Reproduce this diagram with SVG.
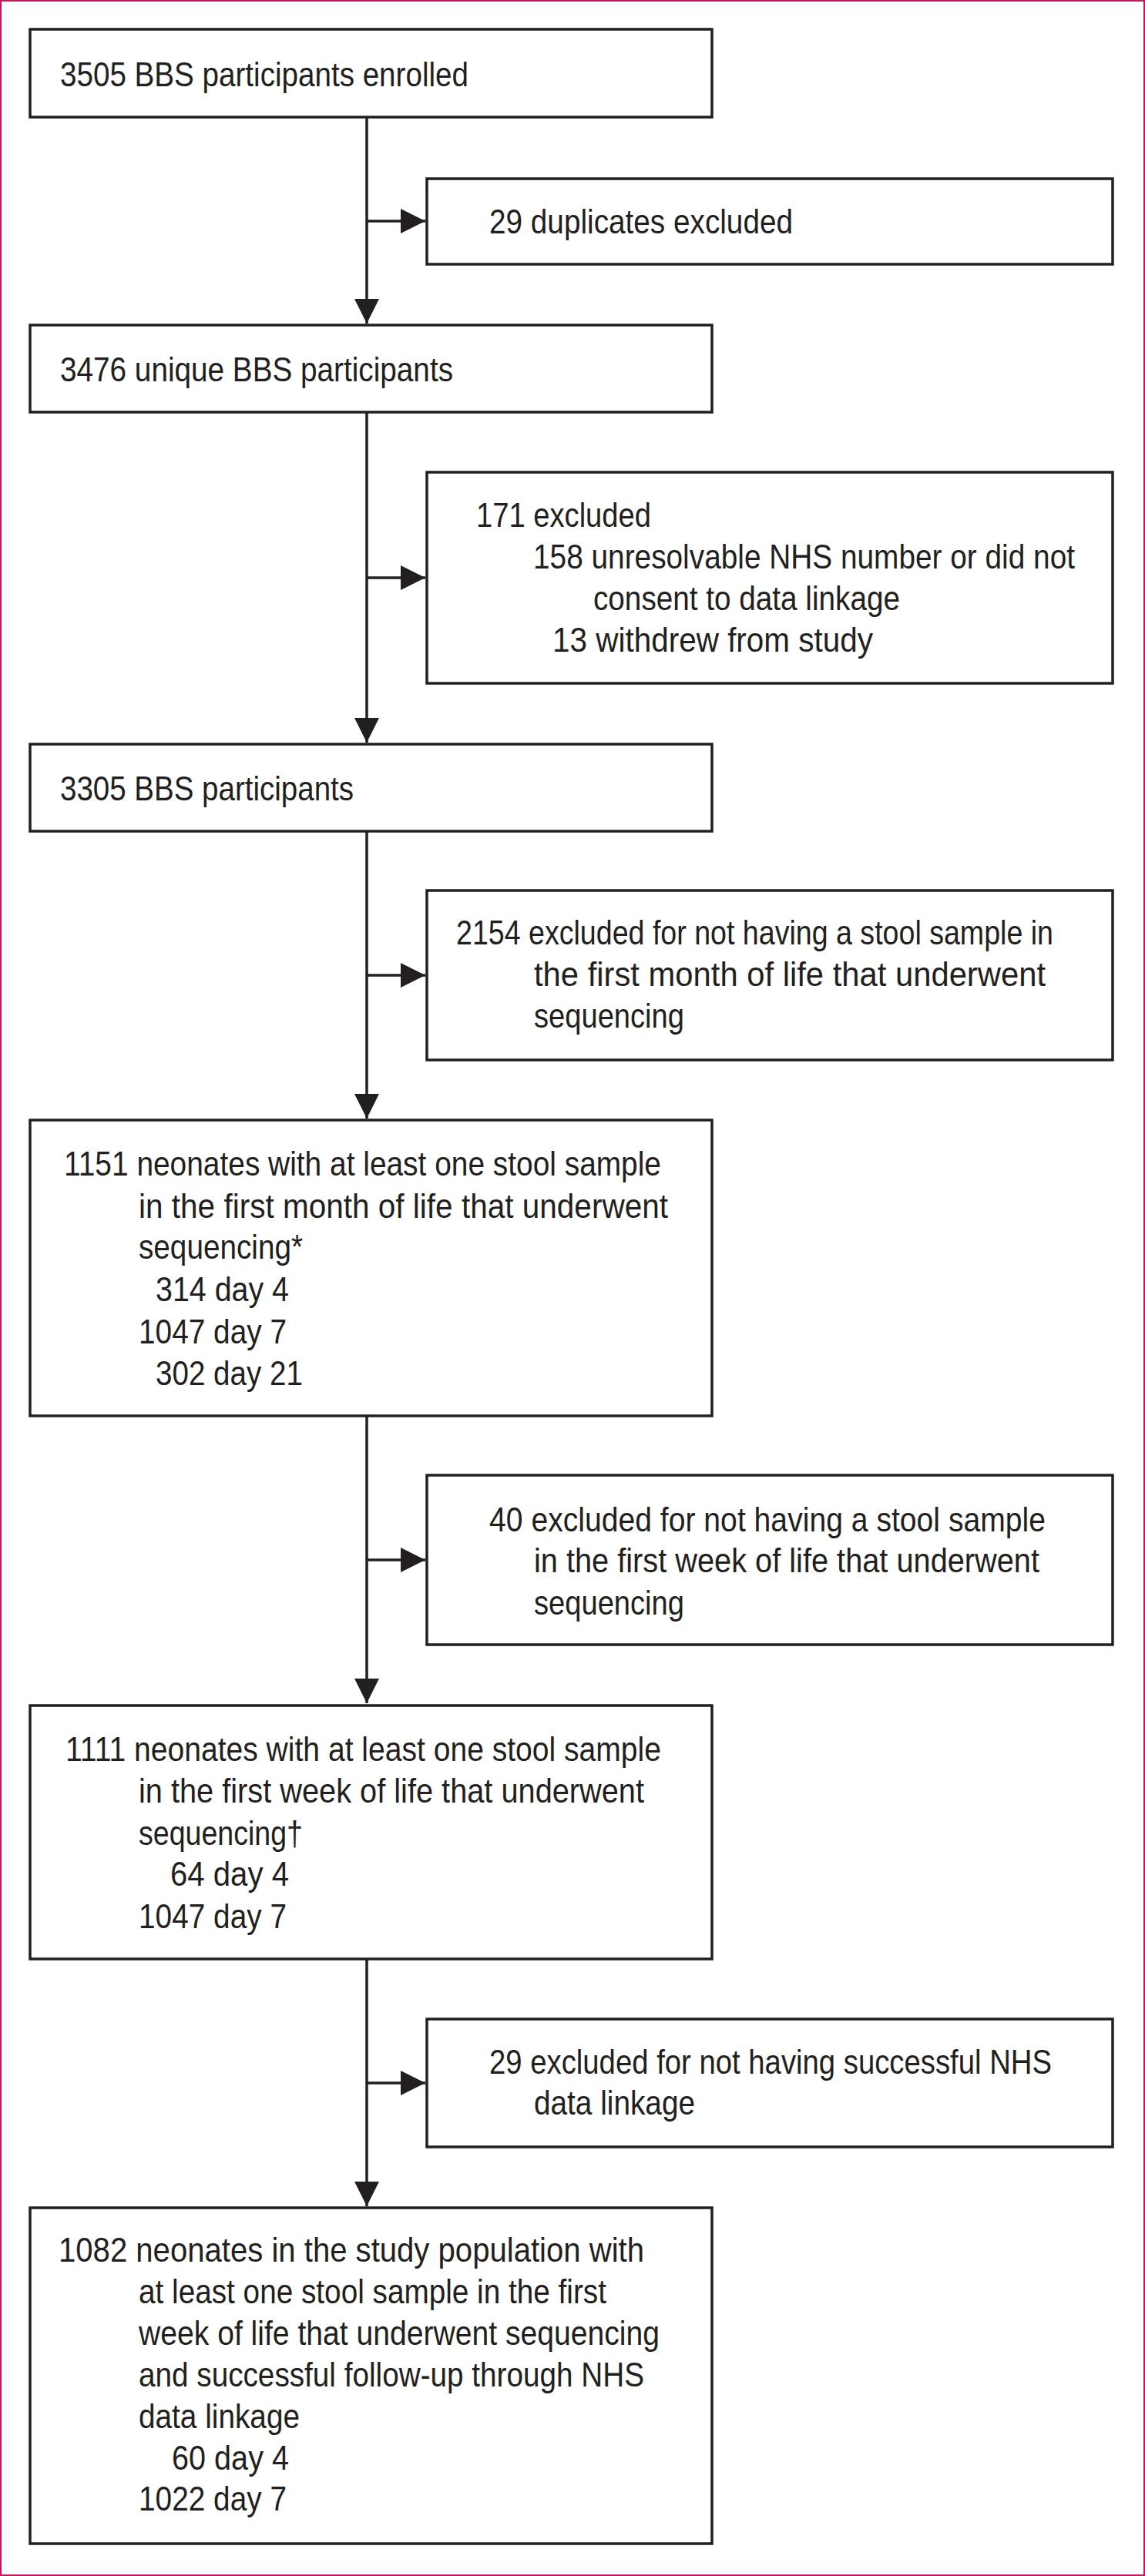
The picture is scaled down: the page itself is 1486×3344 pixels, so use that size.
<svg xmlns="http://www.w3.org/2000/svg" width="1486" height="3344" viewBox="0 0 1486 3344">
<defs>
<style>
.box{fill:#fff;stroke:#231f20;stroke-width:3.5}
.t{font-family:"Liberation Sans",Arial,sans-serif;font-size:44px;fill:#231f20}
.e{text-anchor:end}
.ln{stroke:#231f20;stroke-width:3.5;fill:none}
</style>
<marker id="ah" markerUnits="userSpaceOnUse" markerWidth="32" markerHeight="32" viewBox="0 0 30 30" refX="30" refY="15" orient="auto">
<path d="M0,0 L30,15 L0,30 Z" fill="#231f20"/>
</marker>
</defs>
<rect x="1" y="1" width="1484" height="3342" fill="#fff" stroke="#c2185b" stroke-width="2"/>
<g id="connectors">
<path class="ln" d="M476,152 V420" marker-end="url(#ah)"/>
<path class="ln" d="M476,287 H552" marker-end="url(#ah)"/>
<path class="ln" d="M476,535 V964" marker-end="url(#ah)"/>
<path class="ln" d="M476,750 H552" marker-end="url(#ah)"/>
<path class="ln" d="M476,1079 V1452" marker-end="url(#ah)"/>
<path class="ln" d="M476,1266 H552" marker-end="url(#ah)"/>
<path class="ln" d="M476,1838 V2211" marker-end="url(#ah)"/>
<path class="ln" d="M476,2025 H552" marker-end="url(#ah)"/>
<path class="ln" d="M476,2543 V2864" marker-end="url(#ah)"/>
<path class="ln" d="M476,2704 H552" marker-end="url(#ah)"/>
</g>
<g id="n1"><rect class="box" x="39" y="38" width="885" height="114"/>
<text class="t" x="78" y="112" textLength="530" lengthAdjust="spacingAndGlyphs">3505 BBS participants enrolled</text></g>
<g id="r1"><rect class="box" x="554" y="232" width="890" height="111"/>
<text class="t" x="635" y="303" textLength="394" lengthAdjust="spacingAndGlyphs">29 duplicates excluded</text></g>
<g id="n2"><rect class="box" x="39" y="422" width="885" height="113"/>
<text class="t" x="78" y="495" textLength="510" lengthAdjust="spacingAndGlyphs">3476 unique BBS participants</text></g>
<g id="r2"><rect class="box" x="554" y="613" width="890" height="274"/>
<text class="t" x="618" y="684" textLength="227" lengthAdjust="spacingAndGlyphs">171 excluded</text>
<text class="t" x="692" y="738" textLength="703" lengthAdjust="spacingAndGlyphs">158 unresolvable NHS number or did not</text>
<text class="t" x="770" y="792" textLength="398" lengthAdjust="spacingAndGlyphs">consent to data linkage</text>
<text class="t" x="717" y="846" textLength="416" lengthAdjust="spacingAndGlyphs">13 withdrew from study</text></g>
<g id="n3"><rect class="box" x="39" y="966" width="885" height="113"/>
<text class="t" x="78" y="1039" textLength="381" lengthAdjust="spacingAndGlyphs">3305 BBS participants</text></g>
<g id="r3"><rect class="box" x="554" y="1156" width="890" height="220"/>
<text class="t" x="592" y="1226" textLength="775" lengthAdjust="spacingAndGlyphs">2154 excluded for not having a stool sample in</text>
<text class="t" x="693" y="1280" textLength="664" lengthAdjust="spacingAndGlyphs">the first month of life that underwent</text>
<text class="t" x="693" y="1334" textLength="195" lengthAdjust="spacingAndGlyphs">sequencing</text></g>
<g id="n4"><rect class="box" x="39" y="1454" width="885" height="384"/>
<text class="t" x="83" y="1526" textLength="775" lengthAdjust="spacingAndGlyphs">1151 neonates with at least one stool sample</text>
<text class="t" x="180" y="1581" textLength="687" lengthAdjust="spacingAndGlyphs">in the first month of life that underwent</text>
<text class="t" x="180" y="1634" textLength="213" lengthAdjust="spacingAndGlyphs">sequencing*</text>
<text class="t" x="202" y="1689" textLength="173" lengthAdjust="spacingAndGlyphs">314 day 4</text>
<text class="t" x="180" y="1744" textLength="192" lengthAdjust="spacingAndGlyphs">1047 day 7</text>
<text class="t" x="202" y="1798" textLength="191" lengthAdjust="spacingAndGlyphs">302 day 21</text></g>
<g id="r4"><rect class="box" x="554" y="1915" width="890" height="220"/>
<text class="t" x="635" y="1988" textLength="722" lengthAdjust="spacingAndGlyphs">40 excluded for not having a stool sample</text>
<text class="t" x="693" y="2041" textLength="656" lengthAdjust="spacingAndGlyphs">in the first week of life that underwent</text>
<text class="t" x="693" y="2096" textLength="195" lengthAdjust="spacingAndGlyphs">sequencing</text></g>
<g id="n5"><rect class="box" x="39" y="2214" width="885" height="329"/>
<text class="t" x="85" y="2286" textLength="773" lengthAdjust="spacingAndGlyphs">1111 neonates with at least one stool sample</text>
<text class="t" x="180" y="2340" textLength="656" lengthAdjust="spacingAndGlyphs">in the first week of life that underwent</text>
<text class="t" x="180" y="2395" textLength="213" lengthAdjust="spacingAndGlyphs">sequencing†</text>
<text class="t" x="221" y="2448" textLength="154" lengthAdjust="spacingAndGlyphs">64 day 4</text>
<text class="t" x="180" y="2503" textLength="192" lengthAdjust="spacingAndGlyphs">1047 day 7</text></g>
<g id="r5"><rect class="box" x="554" y="2621" width="890" height="166"/>
<text class="t" x="635" y="2692" textLength="730" lengthAdjust="spacingAndGlyphs">29 excluded for not having successful NHS</text>
<text class="t" x="693" y="2745" textLength="209" lengthAdjust="spacingAndGlyphs">data linkage</text></g>
<g id="n6"><rect class="box" x="39" y="2866" width="885" height="436"/>
<text class="t" x="76" y="2936" textLength="760" lengthAdjust="spacingAndGlyphs">1082 neonates in the study population with</text>
<text class="t" x="180" y="2990" textLength="607" lengthAdjust="spacingAndGlyphs">at least one stool sample in the first</text>
<text class="t" x="180" y="3044" textLength="676" lengthAdjust="spacingAndGlyphs">week of life that underwent sequencing</text>
<text class="t" x="180" y="3098" textLength="656" lengthAdjust="spacingAndGlyphs">and successful follow-up through NHS</text>
<text class="t" x="180" y="3152" textLength="209" lengthAdjust="spacingAndGlyphs">data linkage</text>
<text class="t" x="223" y="3206" textLength="152" lengthAdjust="spacingAndGlyphs">60 day 4</text>
<text class="t" x="180" y="3259" textLength="192" lengthAdjust="spacingAndGlyphs">1022 day 7</text></g>
</svg>
